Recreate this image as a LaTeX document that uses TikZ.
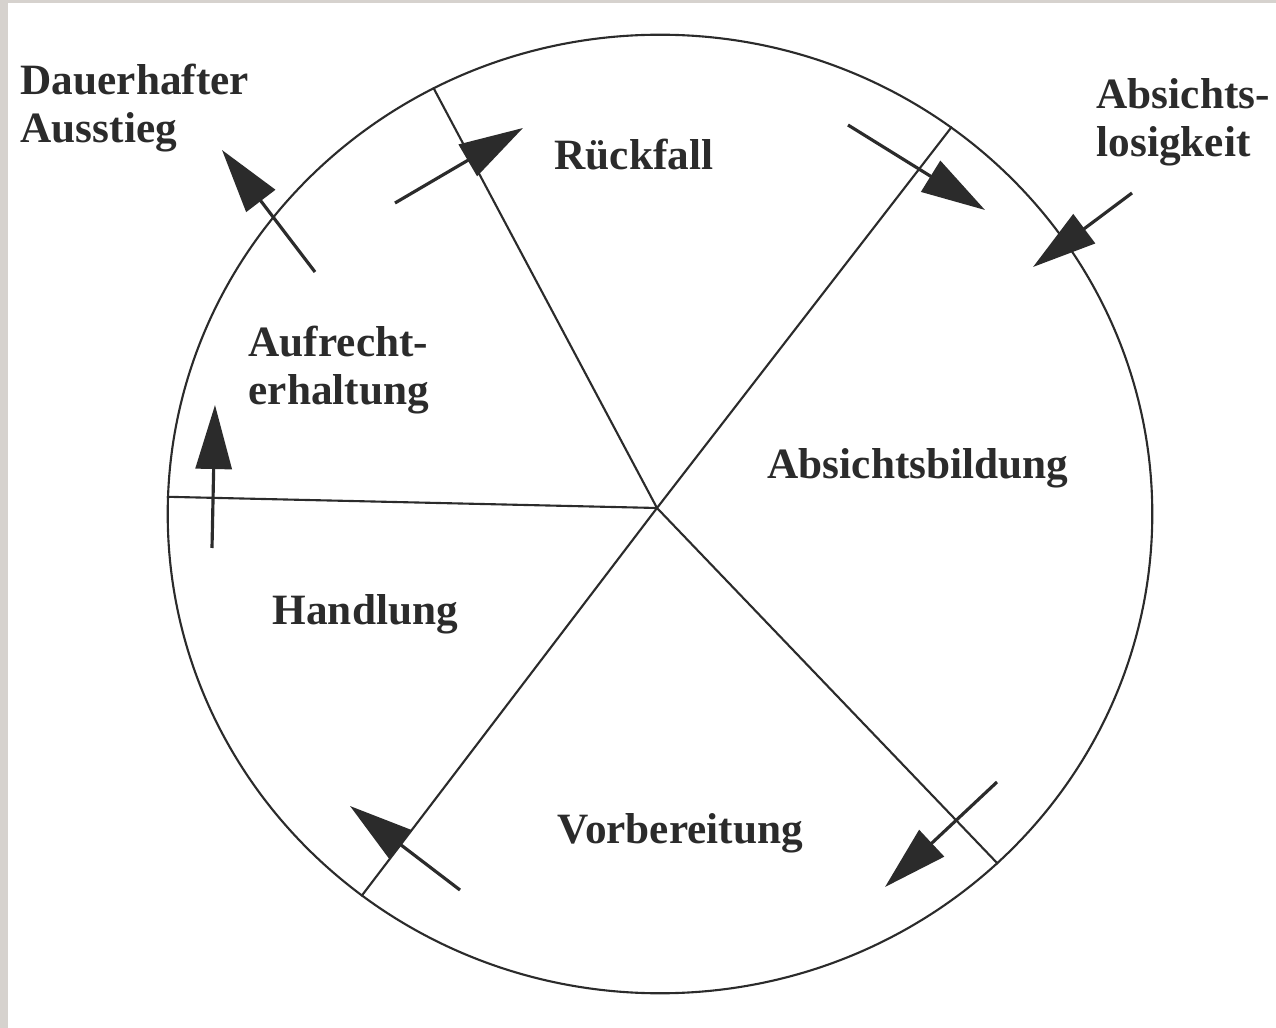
\documentclass[tikz,border=0pt]{standalone}
\usepackage{fontspec}
\setmainfont{Liberation Serif}
\usetikzlibrary{positioning,calc,arrows.meta,shapes.geometric}
\definecolor{scanInk}{HTML}{2B2B2B}
\definecolor{scanEdge}{HTML}{D6D2CE}

\begin{document}
\begin{tikzpicture}[x=0.01cm,y=-0.01cm,
  phase/.style={font=\fontsize{12.3}{13.7}\selectfont\bfseries,text=scanInk,inner sep=0pt,anchor=base west,align=left},
  move/.style={line width=0.9pt,scanInk,-{Triangle[length=0.64cm,width=0.36cm]}}]
\fill[scanEdge] (0,0) rectangle (1276,1028);
\fill[white] (8,3) rectangle (1276,1028);
\node[draw=scanInk,line width=0.6pt,ellipse,minimum width=9.84cm,minimum height=9.58cm,inner sep=0pt] (wheel) at (660,514) {};
\coordinate (hub) at (657,508);
\foreach \a in {118,53,178,232,314}
  \draw[scanInk,line width=0.6pt] (hub) -- (wheel.\a);
\node[phase] (exit) at (20,143) {Dauerhafter\\Ausstieg};
\node[phase] (precon) at (1096,157) {Absichts-\\losigkeit};
\node[phase,anchor=base] (relapse) at (634,170) {Rückfall};
\node[phase] (maint) at (248,405) {Aufrecht-\\erhaltung};
\node[phase] (contemp) at (767,479) {Absichtsbildung};
\node[phase] (action) at (272,625) {Handlung};
\node[phase] (prep) at (557,843) {Vorbereitung};
\foreach \n/\sx/\sy/\tx/\ty in {out/315/272/222/150, back/395/203/523/128, think/848/125/985/210,
  start/1132/193/1033/267, plan/997/782/885/887, act/460/890/350/806, keep/212/548/215/405}{
  \coordinate (\n-tail) at (\sx,\sy);
  \coordinate (\n-tip) at (\tx,\ty);
  \draw[move] (\n-tail) -- (\n-tip);
}
\end{tikzpicture}
\end{document}
